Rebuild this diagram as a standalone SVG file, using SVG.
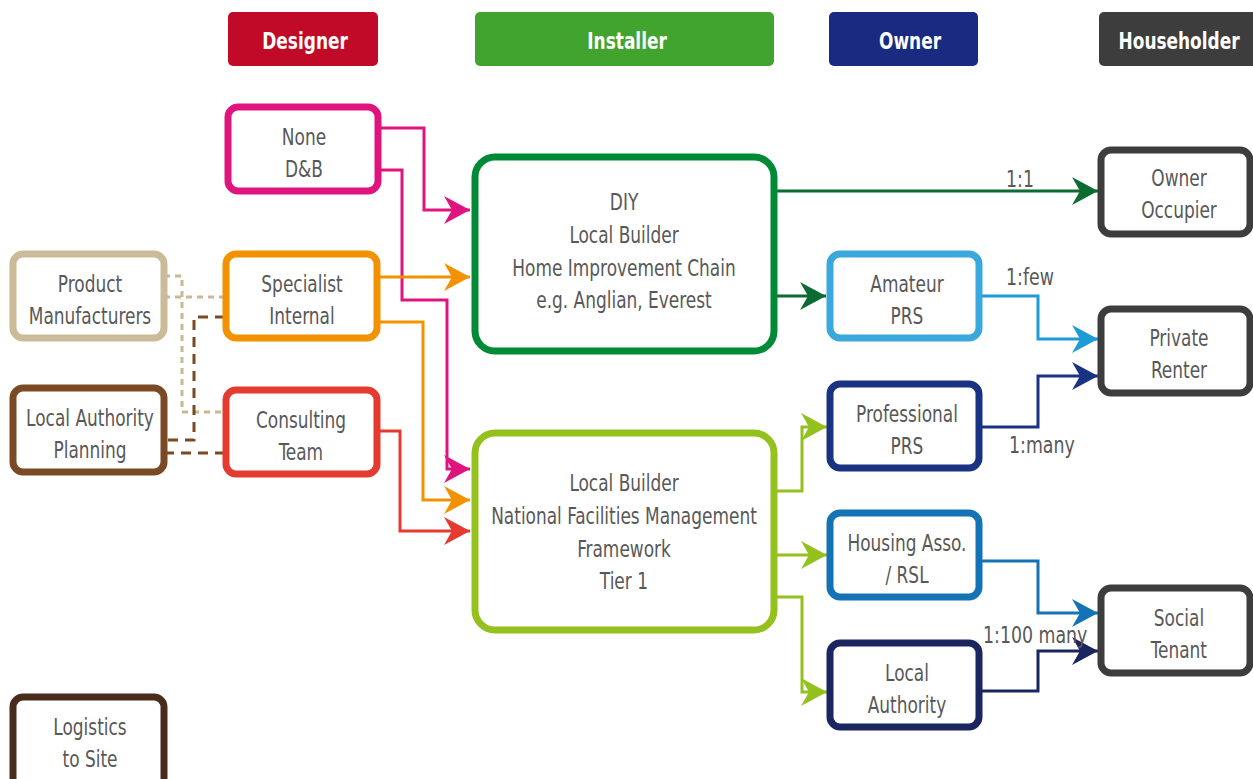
<svg xmlns="http://www.w3.org/2000/svg" width="1253" height="779" viewBox="0 0 1253 779">
<style>
.hdr{font-family:"Liberation Sans Narrow","DejaVu Sans Condensed","Liberation Sans",sans-serif;font-weight:bold;font-size:23px;fill:#fff;text-anchor:middle;transform-box:fill-box;transform-origin:center;transform:scaleX(0.82)}
.t{font-family:"Liberation Sans Narrow","DejaVu Sans Condensed","Liberation Sans",sans-serif;font-size:23px;fill:#585858;text-anchor:middle;transform-box:fill-box;transform-origin:center;transform:scaleX(0.82)}
.lbl{font-family:"Liberation Sans Narrow","DejaVu Sans Condensed","Liberation Sans",sans-serif;font-size:23px;fill:#585858;transform-box:fill-box;transform-origin:left center;transform:scaleX(0.84)}
.box{fill:#fff;stroke-width:7}
.c{fill:none;stroke-width:3}
</style>
<defs>
<marker id="m-mag" viewBox="0 0 26 28" refX="26" refY="14" markerWidth="26" markerHeight="28" markerUnits="userSpaceOnUse" orient="auto"><path d="M0,0 L26,14 L0,28 L8,14 z" fill="#e0147f"/></marker>
<marker id="m-org" viewBox="0 0 26 28" refX="26" refY="14" markerWidth="26" markerHeight="28" markerUnits="userSpaceOnUse" orient="auto"><path d="M0,0 L26,14 L0,28 L8,14 z" fill="#f39200"/></marker>
<marker id="m-red" viewBox="0 0 26 28" refX="26" refY="14" markerWidth="26" markerHeight="28" markerUnits="userSpaceOnUse" orient="auto"><path d="M0,0 L26,14 L0,28 L8,14 z" fill="#e53a30"/></marker>
<marker id="m-grn" viewBox="0 0 26 28" refX="26" refY="14" markerWidth="26" markerHeight="28" markerUnits="userSpaceOnUse" orient="auto"><path d="M0,0 L26,14 L0,28 L8,14 z" fill="#0b6b32"/></marker>
<marker id="m-lb" viewBox="0 0 26 28" refX="26" refY="14" markerWidth="26" markerHeight="28" markerUnits="userSpaceOnUse" orient="auto"><path d="M0,0 L26,14 L0,28 L8,14 z" fill="#1d9ad8"/></marker>
<marker id="m-nav" viewBox="0 0 26 28" refX="26" refY="14" markerWidth="26" markerHeight="28" markerUnits="userSpaceOnUse" orient="auto"><path d="M0,0 L26,14 L0,28 L8,14 z" fill="#1a3282"/></marker>
<marker id="m-yg" viewBox="0 0 26 28" refX="26" refY="14" markerWidth="26" markerHeight="28" markerUnits="userSpaceOnUse" orient="auto"><path d="M0,0 L26,14 L0,28 L8,14 z" fill="#95c11f"/></marker>
<marker id="m-blu" viewBox="0 0 26 28" refX="26" refY="14" markerWidth="26" markerHeight="28" markerUnits="userSpaceOnUse" orient="auto"><path d="M0,0 L26,14 L0,28 L8,14 z" fill="#1473b4"/></marker>
<marker id="m-dn" viewBox="0 0 26 28" refX="26" refY="14" markerWidth="26" markerHeight="28" markerUnits="userSpaceOnUse" orient="auto"><path d="M0,0 L26,14 L0,28 L8,14 z" fill="#1b2560"/></marker>
</defs>

<g id="headers">
<g id="h-designer"><rect x="228" y="12" width="150" height="54" rx="5" fill="#c00a28"/><text class="hdr" x="305" y="49">Designer</text></g>
<g id="h-installer"><rect x="475" y="12" width="299" height="54" rx="5" fill="#40a42e"/><text class="hdr" x="627" y="49">Installer</text></g>
<g id="h-owner"><rect x="829" y="12" width="149" height="54" rx="5" fill="#1a2a80"/><text class="hdr" x="910" y="49">Owner</text></g>
<g id="h-householder"><rect x="1099" y="12" width="160" height="54" rx="5" fill="#3d3d3d"/><text class="hdr" x="1179" y="49">Householder</text></g>
</g>

<g id="connectors">
<path class="c" stroke="#e0147f" d="M378,128 H424 V210 H470" marker-end="url(#m-mag)"/>
<path class="c" stroke="#e0147f" d="M378,170 H402 V300 H447 V469 H470" marker-end="url(#m-mag)"/>
<path class="c" stroke="#f39200" d="M377,277 H470" marker-end="url(#m-org)"/>
<path class="c" stroke="#f39200" d="M377,322 H423 V500 H470" marker-end="url(#m-org)"/>
<path class="c" stroke="#e53a30" d="M377,431 H400 V531 H470" marker-end="url(#m-red)"/>
<path class="c" stroke="#0b6b32" d="M774,191 H1098" marker-end="url(#m-grn)"/>
<path class="c" stroke="#0b6b32" d="M774,296 H826" marker-end="url(#m-grn)"/>
<path class="c" stroke="#1d9ad8" d="M979,296 H1038 V339 H1098" marker-end="url(#m-lb)"/>
<path class="c" stroke="#1a3282" d="M979,427 H1038 V376 H1098" marker-end="url(#m-nav)"/>
<path class="c" stroke="#95c11f" d="M774,491 H802 V427 H827" marker-end="url(#m-yg)"/>
<path class="c" stroke="#95c11f" d="M774,555 H827" marker-end="url(#m-yg)"/>
<path class="c" stroke="#95c11f" d="M774,597 H802 V692 H827" marker-end="url(#m-yg)"/>
<path class="c" stroke="#1473b4" d="M979,561 H1038 V613 H1098" marker-end="url(#m-blu)"/>
<path class="c" stroke="#1b2560" d="M979,691 H1038 V651 H1098" marker-end="url(#m-dn)"/>
<path class="c" stroke="#c9b896" stroke-dasharray="6,5" d="M164,276 H182 V412 H225"/>
<path class="c" stroke="#c9b896" stroke-dasharray="6,5" d="M164,297 H225"/>
<path class="c" stroke="#7a4a24" stroke-dasharray="10,7" d="M225,317 H194 V440 H164"/>
<path class="c" stroke="#7a4a24" stroke-dasharray="10,7" d="M164,453 H225"/>
<text class="lbl" x="1006" y="187">1:1</text>
<text class="lbl" x="1006" y="285">1:few</text>
<text class="lbl" x="1009" y="453">1:many</text>
<text class="lbl" x="983" y="643">1:100 many</text>
</g>

<g id="n-none"><rect class="box" x="228" y="107" width="150" height="84" rx="10" stroke="#e0147f"/><text class="t" x="304" y="145">None</text><text class="t" x="304" y="177">D&amp;B</text></g>
<g id="n-specialist"><rect class="box" x="226" y="254" width="151" height="84" rx="10" stroke="#f39200"/><text class="t" x="302" y="292">Specialist</text><text class="t" x="302" y="324">Internal</text></g>
<g id="n-consulting"><rect class="box" x="226" y="390" width="151" height="84" rx="10" stroke="#e53a30"/><text class="t" x="301" y="428">Consulting</text><text class="t" x="301" y="460">Team</text></g>
<g id="n-product"><rect class="box" x="13" y="254" width="151" height="84" rx="10" stroke="#cbbb98"/><text class="t" x="90" y="292">Product</text><text class="t" x="90" y="324">Manufacturers</text></g>
<g id="n-laplanning"><rect class="box" x="13" y="388" width="151" height="84" rx="10" stroke="#7a4a24"/><text class="t" x="90" y="426">Local Authority</text><text class="t" x="90" y="458">Planning</text></g>
<g id="n-logistics"><rect class="box" x="13" y="697" width="151" height="100" rx="10" stroke="#4a2c1c"/><text class="t" x="90" y="735">Logistics</text><text class="t" x="90" y="767">to Site</text></g>
<g id="n-diy"><rect class="box" x="475" y="157" width="299" height="194" rx="20" stroke="#008a36"/><text class="t" x="624" y="210">DIY</text><text class="t" x="624" y="243">Local Builder</text><text class="t" x="624" y="276">Home Improvement Chain</text><text class="t" x="624" y="308">e.g. Anglian, Everest</text></g>
<g id="n-localbuilder"><rect class="box" x="475" y="433" width="299" height="197" rx="20" stroke="#95c11f"/><text class="t" x="624" y="491">Local Builder</text><text class="t" x="624" y="524">National Facilities Management</text><text class="t" x="624" y="557">Framework</text><text class="t" x="624" y="589">Tier 1</text></g>
<g id="n-owneroccupier"><rect class="box" x="1101" y="150" width="149" height="84" rx="10" stroke="#3d3d3d"/><text class="t" x="1179" y="186">Owner</text><text class="t" x="1179" y="218">Occupier</text></g>
<g id="n-amateur"><rect class="box" x="830" y="254" width="149" height="84" rx="10" stroke="#3aa8dc"/><text class="t" x="907" y="292">Amateur</text><text class="t" x="907" y="324">PRS</text></g>
<g id="n-privaterenter"><rect class="box" x="1101" y="309" width="149" height="84" rx="10" stroke="#3d3d3d"/><text class="t" x="1179" y="346">Private</text><text class="t" x="1179" y="378">Renter</text></g>
<g id="n-professional"><rect class="box" x="830" y="384" width="149" height="84" rx="10" stroke="#1a3282"/><text class="t" x="907" y="422">Professional</text><text class="t" x="907" y="454">PRS</text></g>
<g id="n-housing"><rect class="box" x="830" y="513" width="149" height="84" rx="10" stroke="#1473b4"/><text class="t" x="907" y="551">Housing Asso.</text><text class="t" x="907" y="583">/ RSL</text></g>
<g id="n-social"><rect class="box" x="1101" y="588" width="149" height="85" rx="10" stroke="#3d3d3d"/><text class="t" x="1179" y="626">Social</text><text class="t" x="1179" y="658">Tenant</text></g>
<g id="n-localauthority"><rect class="box" x="830" y="643" width="149" height="84" rx="10" stroke="#1b2560"/><text class="t" x="907" y="681">Local</text><text class="t" x="907" y="713">Authority</text></g>
</svg>
